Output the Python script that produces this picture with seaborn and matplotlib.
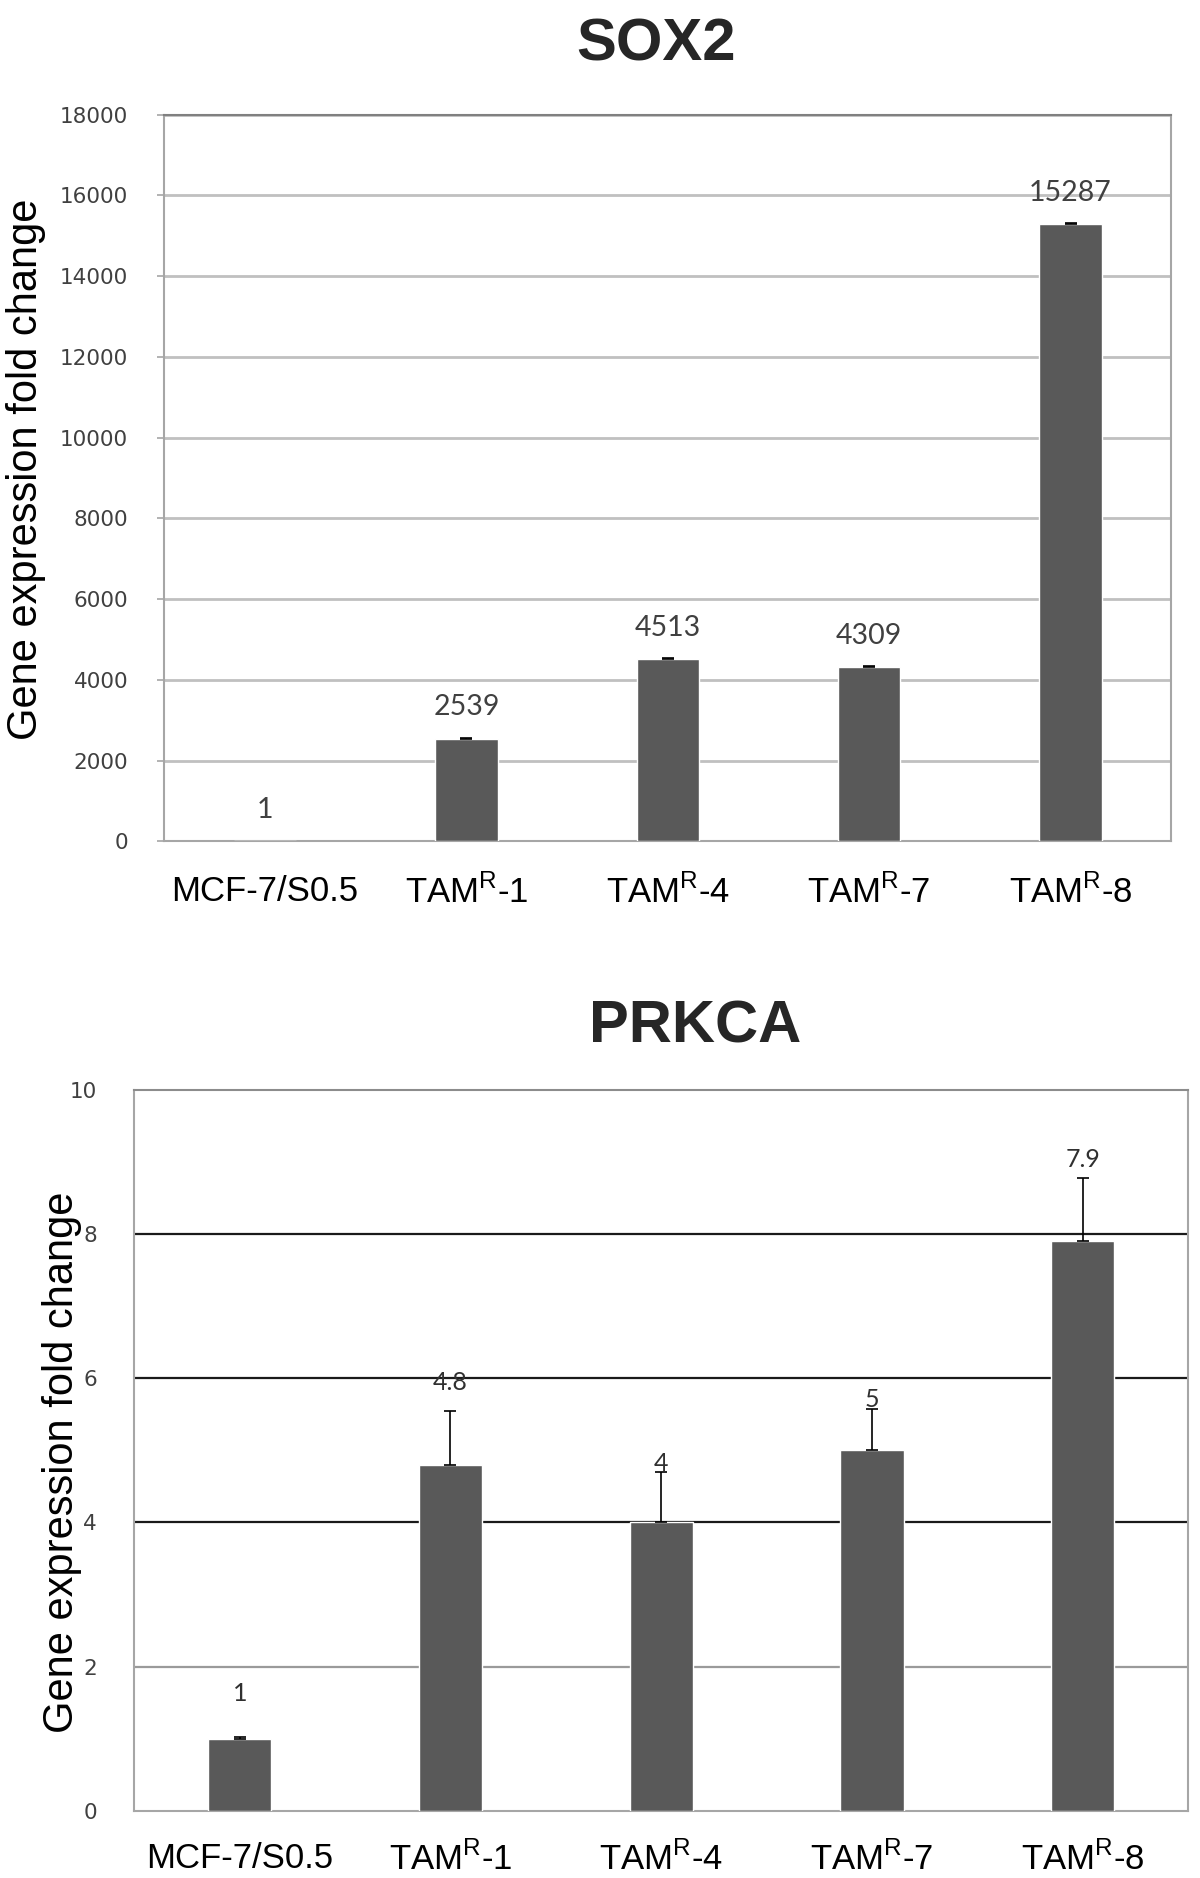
import numpy as np
import pandas as pd
import matplotlib
matplotlib.use("Agg")
import matplotlib.pyplot as plt
import seaborn as sns

# ------------------------------------------------------------
# Data
# ------------------------------------------------------------
groups = ["MCF-7/S0.5", "TAMR-1", "TAMR-4", "TAMR-7", "TAMR-8"]
tick_labels = ["MCF-7/S0.5", r"TAM$^{\mathregular{R}}$-1", r"TAM$^{\mathregular{R}}$-4",
               r"TAM$^{\mathregular{R}}$-7", r"TAM$^{\mathregular{R}}$-8"]

sox2_vals = [1, 2539, 4513, 4309, 15287]
sox2_err = [0, 30, 35, 25, 30]
sox2_text = ["1", "2539", "4513", "4309", "15287"]

prkca_vals = [1, 4.8, 4, 5, 7.9]
prkca_err = [0.02, 0.75, 0.70, 0.58, 0.88]
prkca_text = ["1", "4.8", "4", "5", "7.9"]
prkca_label_off = [0.63, 1.14, 0.82, 0.70, 1.14]   # where Excel put the labels

sox2 = pd.DataFrame({"group": groups, "value": sox2_vals})
prkca = pd.DataFrame({"group": groups, "value": prkca_vals})

sns.set_theme(style="white")
plt.rcParams["font.family"] = ["Liberation Sans", "DejaVu Sans"]
plt.rcParams["mathtext.fontset"] = "custom"
plt.rcParams["mathtext.rm"] = "Liberation Sans"

BAR = "#595959"
fig = plt.figure(figsize=(12, 18.78), dpi=100)

# ------------------------------------------------------------
# SOX2
# ------------------------------------------------------------
ax1 = fig.add_axes([0.137, 0.552, 0.839, 0.387])
sns.barplot(data=sox2, x="group", y="value", color=BAR, width=0.31,
            errorbar=None, saturation=1, ax=ax1, zorder=3)
# the MCF-7 bar is too small to show an error bar
idx = [i for i, e in enumerate(sox2_err) if e > 0]
ax1.errorbar(idx, [sox2_vals[i] for i in idx],
             yerr=[np.zeros(len(idx)), [sox2_err[i] for i in idx]], fmt="none",
             ecolor="black", elinewidth=1.2, capsize=4, capthick=1.2, zorder=4)
for i, (v, t) in enumerate(zip(sox2_vals, sox2_text)):
    ax1.text(i, v + 780, t, ha="center", va="center", fontsize=20.5,
             family="Lato", color="#404040")
ax1.set_xlim(-0.5, len(groups) - 0.5)
ax1.set_ylim(0, 18000)
ax1.set_yticks(range(0, 18001, 2000))
ax1.yaxis.grid(True, color="#c0c0c0", linewidth=2, zorder=0)
ax1.set_axisbelow(True)
for s in ax1.spines.values():
    s.set_color("#a6a6a6")
    s.set_linewidth(1.5)
ax1.spines["top"].set_color("#808080")
ax1.tick_params(axis="y", left=True, length=5, color="#a6a6a6", width=1.2,
                labelsize=15.5, labelcolor="#404040", pad=21)
for lab in ax1.get_yticklabels():
    lab.set_family("DejaVu Sans")
ax1.tick_params(axis="x", bottom=False, pad=18)
ax1.set_xticks(range(len(groups)))
ax1.set_xticklabels(tick_labels, fontsize=25, color="black")
ax1.set_xlabel("")
ax1.set_ylabel("")
fig.text(0.022, 0.75, "Gene expression fold change", rotation=90,
         ha="center", va="center", fontsize=30, color="black")
fig.text(0.547, 0.976, "SOX2", ha="center", va="center", fontsize=43,
         fontweight="bold")

# ------------------------------------------------------------
# PRKCA
# ------------------------------------------------------------
ax2 = fig.add_axes([0.112, 0.0357, 0.878, 0.384])
sns.barplot(data=prkca, x="group", y="value", color=BAR, width=0.30,
            errorbar=None, saturation=1, ax=ax2, zorder=3)
ax2.errorbar(np.arange(len(groups)), prkca_vals,
             yerr=[np.zeros(len(groups)), prkca_err], fmt="none",
             ecolor="black", elinewidth=1.2, capsize=4, capthick=1.2, zorder=4)
for i, (v, t) in enumerate(zip(prkca_vals, prkca_text)):
    ax2.text(i, v + prkca_label_off[i], t, ha="center", va="center",
             fontsize=18, family="Lato", color="#303030", zorder=5)
ax2.set_xlim(-0.5, len(groups) - 0.5)
ax2.set_ylim(0, 10)
ax2.set_yticks(range(0, 11, 2))
ax2.yaxis.grid(True, color="#1a1a1a", linewidth=1.6, zorder=0)
ax2.set_axisbelow(True)
gl = ax2.yaxis.get_gridlines()
gl[1].set_color("#9a9a9a")
gl[0].set_visible(False)
gl[-1].set_visible(False)
for s in ax2.spines.values():
    s.set_color("#a6a6a6")
    s.set_linewidth(1.5)
ax2.spines["top"].set_color("#8c8c8c")
ax2.tick_params(axis="y", left=False, labelsize=15.5, labelcolor="#404040", pad=21)
for lab in ax2.get_yticklabels():
    lab.set_family("DejaVu Sans")
ax2.tick_params(axis="x", bottom=False, pad=16)
ax2.set_xticks(range(len(groups)))
ax2.set_xticklabels(tick_labels, fontsize=25, color="black")
ax2.set_xlabel("")
ax2.set_ylabel("")
fig.text(0.052, 0.2215, "Gene expression fold change", rotation=90,
         ha="center", va="center", fontsize=30, color="black")
fig.text(0.579, 0.453, "PRKCA", ha="center", va="center", fontsize=43,
         fontweight="bold")

fig.savefig("out.png", dpi=100, facecolor="white")
